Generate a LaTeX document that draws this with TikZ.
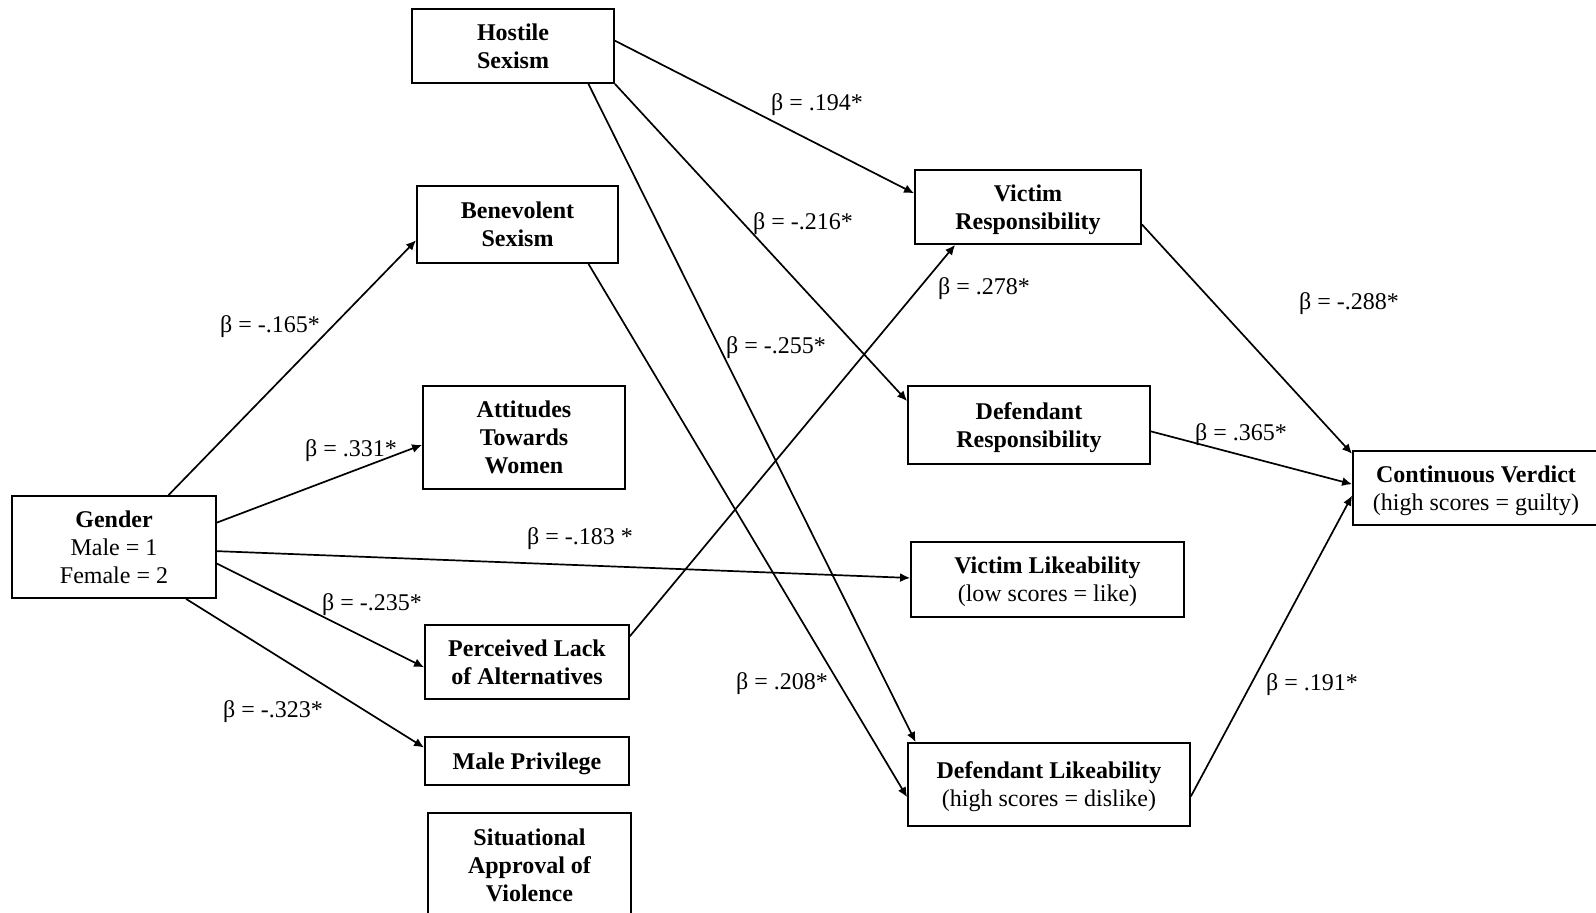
\documentclass[tikz,border=0pt]{standalone}
\usepackage{fontspec}
\setmainfont{Liberation Serif}
\usetikzlibrary{arrows.meta,calc}
\tikzset{
  box/.style={draw, line width=0.9pt, inner sep=0pt, align=center, text depth=0pt, font=\fontsize{12}{14}\selectfont\bfseries},
  lbl/.style={font=\fontsize{12}{14}\selectfont, inner sep=0pt, text depth=0pt},
  conn/.style={line width=0.85pt, -{Latex[length=5pt,width=4.5pt]}},
}
\newcommand{\reg}[1]{{\mdseries #1}}
\begin{document}
\begin{tikzpicture}[x=0.5pt,y=-0.5pt]
\useasboundingbox (0,0) rectangle (1596,913);
% boxes
\node[box, minimum width=101pt, minimum height=37pt] (hs) at (513,46) {Hostile\\Sexism};
\node[box, minimum width=100.5pt, minimum height=38.5pt] (bs) at (517.5,224.5) {Benevolent\\Sexism};
\node[box, minimum width=101pt, minimum height=51.5pt] (atw) at (524,437.5) {Attitudes\\Towards\\Women};
\node[box, minimum width=102pt, minimum height=51pt] (g) at (114,547) {Gender\\\reg{Male = 1}\\\reg{Female = 2}};
\node[box, minimum width=102pt, minimum height=37pt] (pla) at (527,662) {Perceived Lack\\of Alternatives};
\node[box, minimum width=102pt, minimum height=24pt] (mp) at (527,761) {Male Privilege};
\node[box, minimum width=101.5pt, minimum height=52pt] (sav) at (529.5,865) {Situational\\Approval of\\Violence};
\node[box, minimum width=113pt, minimum height=37pt] (vr) at (1028,207) {Victim\\Responsibility};
\node[box, minimum width=121pt, minimum height=39pt] (dr) at (1029,425) {Defendant\\Responsibility};
\node[box, minimum width=136.5pt, minimum height=37.5pt] (vl) at (1047.5,579.5) {Victim Likeability\\\reg{(low scores = like)}};
\node[box, minimum width=141pt, minimum height=41.5pt] (dl) at (1049,784.5) {Defendant Likeability\\\reg{(high scores = dislike)}};
\node[box, minimum width=123pt, minimum height=37pt] (cv) at (1476,488) {Continuous Verdict\\\reg{(high scores = guilty)}};
% connectors
\draw[conn] ($(g.north west)!0.765!(g.north east)$) -- ($(bs.north west)!0.70!(bs.south west)$);
\draw[conn] ($(g.north east)!0.265!(g.south east)$) -- ($(atw.north west)!0.57!(atw.south west)$);
\draw[conn] ($(g.north east)!0.54!(g.south east)$) -- ($(vl.north west)!0.48!(vl.south west)$);
\draw[conn] ($(g.north east)!0.66!(g.south east)$) -- ($(pla.north west)!0.57!(pla.south west)$);
\draw[conn] ($(g.south west)!0.85!(g.south east)$) -- ($(mp.north west)!0.23!(mp.south west)$);
\draw[conn] ($(hs.north east)!0.43!(hs.south east)$) -- ($(vr.north west)!0.32!(vr.south west)$);
\draw[conn] (hs.south east) -- ($(dr.north west)!0.2!(dr.south west)$);
\draw[conn] ($(hs.south west)!0.87!(hs.south east)$) -- ($(dl.north west)!0.03!(dl.north east)$);
\draw[conn] ($(bs.south west)!0.85!(bs.south east)$) -- ($(dl.north west)!0.65!(dl.south west)$);
\draw[conn] ($(pla.north east)!0.16!(pla.south east)$) -- ($(vr.south west)!0.18!(vr.south east)$);
\draw[conn] ($(vr.north east)!0.73!(vr.south east)$) -- ($(cv.north west)!0.05!(cv.south west)$);
\draw[conn] ($(dr.north east)!0.58!(dr.south east)$) -- ($(cv.north west)!0.45!(cv.south west)$);
\draw[conn] ($(dl.north east)!0.64!(dl.south east)$) -- ($(cv.north west)!0.6!(cv.south west)$);
% labels
\node[lbl] (l1) at (270,324) {β = -.165*};
\node[lbl] (l2) at (351,448) {β = .331*};
\node[lbl] (l3) at (580,536) {β = -.183 *};
\node[lbl] (l4) at (372,602) {β = -.235*};
\node[lbl] (l5) at (273,709) {β = -.323*};
\node[lbl] (l6) at (817,102) {β = .194*};
\node[lbl] (l7) at (803,221) {β = -.216*};
\node[lbl] (l8) at (776,345) {β = -.255*};
\node[lbl] (l9) at (782,681) {β = .208*};
\node[lbl] (l10) at (984,286) {β = .278*};
\node[lbl] (l11) at (1349,301) {β = -.288*};
\node[lbl] (l12) at (1241,432) {β = .365*};
\node[lbl] (l13) at (1312,682) {β = .191*};
\end{tikzpicture}
\end{document}
